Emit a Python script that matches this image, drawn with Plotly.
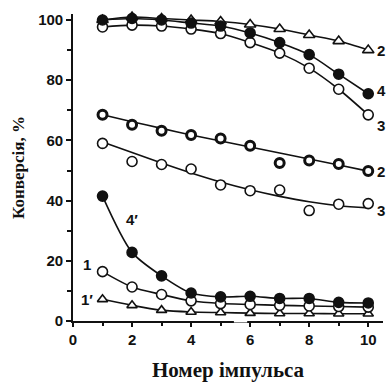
import plotly.graph_objects as go

pulse = list(range(1, 11))

s2_top = [100, 101, 100.5, 100, 99.5, 98.5, 97, 95, 93, 90]
s4_top = [100, 100.5, 100, 99, 98, 95.7, 92.5, 88.5, 82, 75.5]
s3_top = [97.7, 98.3, 98, 97, 95.5, 92.5, 89, 84, 77, 68.5]

s2_low = [68.5, 65.2, 63.2, 61.8, 60.6, 58.2, 52.5, 53.3, 52.2, 49.8]
s2_low_fit = [68.5, 66.2, 64, 61.8, 59.8, 57.8, 55.8, 53.8, 51.8, 49.8]
s3_low = [59, 53, 52, 50.5, 45.2, 43.3, 43.5, 36.7, 38.8, 39]
s3_low_fit = [59.5, 56, 52.5, 49.2, 46.2, 43.6, 41.4, 39.6, 38.3, 37.6]

s4p = [41.5, 22.8, 15, 9.3, 8, 8.2, 7.5, 7.5, 6.2, 6]
s1 = [16.4, 11.3, 8.8, 6.7, 5.8, 5.5, 5.2, 5, 4.8, 4.6]
s1p = [7.2, 5.2, 3.6, 3, 2.8, 2.6, 2.5, 2.5, 2.4, 2.4]

x_ticks = [0, 2, 4, 6, 8, 10]
y_ticks = [0, 20, 40, 60, 80, 100]

right_labels = [("2", 89.8), ("4", 76.7), ("3", 65), ("2", 49.8), ("3", 36.7)]
left_labels = [("4′", 2.0, 33.8), ("1", 0.47, 18.7), ("1′", 0.47, 7.2)]

BLACK = "#111111"

fig = go.Figure()

def line(y, shape="spline"):
    fig.add_trace(go.Scatter(x=pulse, y=y, mode="lines",
                             line=dict(color=BLACK, width=1.6, shape=shape, smoothing=0.8),
                             showlegend=False, hoverinfo="skip", cliponaxis=False))

def marks(y, symbol, fill, lw=1.6, size=10):
    fig.add_trace(go.Scatter(x=pulse, y=y, mode="markers",
                             marker=dict(symbol=symbol, size=size, color=fill,
                                         line=dict(color=BLACK, width=lw)),
                             showlegend=False, cliponaxis=False))

# lower curves
line(s1p); marks(s1p, "triangle-up", "white", size=9)
line(s1); marks(s1, "circle", "white")
line(s4p); marks(s4p, "circle", BLACK)
# middle
line(s3_low_fit); marks(s3_low, "circle", "white")
line(s2_low_fit); marks(s2_low, "circle", "white", lw=3, size=9)
# top
line(s3_top); marks(s3_top, "circle", "white")
line(s2_top); marks(s2_top, "triangle-up", "white", size=10)
line(s4_top); marks(s4_top, "circle", BLACK)

for t, yv in right_labels:
    fig.add_annotation(x=10.25, y=yv, text=t, showarrow=False, xanchor="left",
                       borderpad=0,
                       font=dict(family="Liberation Sans", size=15, color=BLACK, weight="bold"))
for t, xv, yv in left_labels:
    fig.add_annotation(x=xv, y=yv, text=t, showarrow=False,
                       font=dict(family="Liberation Sans", size=15, color=BLACK, weight="bold"))

# small break in the x axis line
fig.add_shape(type="line", xref="x", yref="paper", x0=5.45, x1=5.9, y0=0, y1=0,
              line=dict(color="white", width=3), layer="above")

fig.update_layout(
    width=390, height=385,
    margin=dict(l=73, r=7, t=14, b=60),
    paper_bgcolor="white", plot_bgcolor="white",
    showlegend=False,
    xaxis=dict(range=[0, 10.5], tickvals=x_ticks, ticks="outside", ticklen=4,
               tickwidth=1.5, tickcolor=BLACK, showline=True, linecolor=BLACK,
               linewidth=1.6, showgrid=False, zeroline=False,
               minor=dict(dtick=1, tick0=0, ticks="outside", ticklen=3, tickcolor=BLACK, tickwidth=1.5),
               tickfont=dict(family="Liberation Sans", size=15, color=BLACK, weight="bold"),
               title=dict(text="Номер імпульса", standoff=16,
                          font=dict(family="Liberation Serif", size=21, color=BLACK, weight="bold"))),
    yaxis=dict(range=[0, 102], tickvals=y_ticks, ticks="outside", ticklen=5,
               tickwidth=1.5, tickcolor=BLACK, showline=True, linecolor=BLACK,
               linewidth=1.6, showgrid=False, zeroline=False,
               minor=dict(dtick=10, tick0=0, ticks="outside", ticklen=4, tickcolor=BLACK, tickwidth=1.5),
               tickfont=dict(family="Liberation Sans", size=15, color=BLACK, weight="bold"),
               title=dict(text="Конверсія, %", standoff=9,
                          font=dict(family="Liberation Serif", size=17, color=BLACK, weight="bold"))),
)

# remove the default page margin so the 390x385 figure fills the window exactly
fig.write_html("out.html",
               config={"displayModeBar": False},
               post_script="document.body.style.margin='0';document.body.style.overflow='hidden';")
